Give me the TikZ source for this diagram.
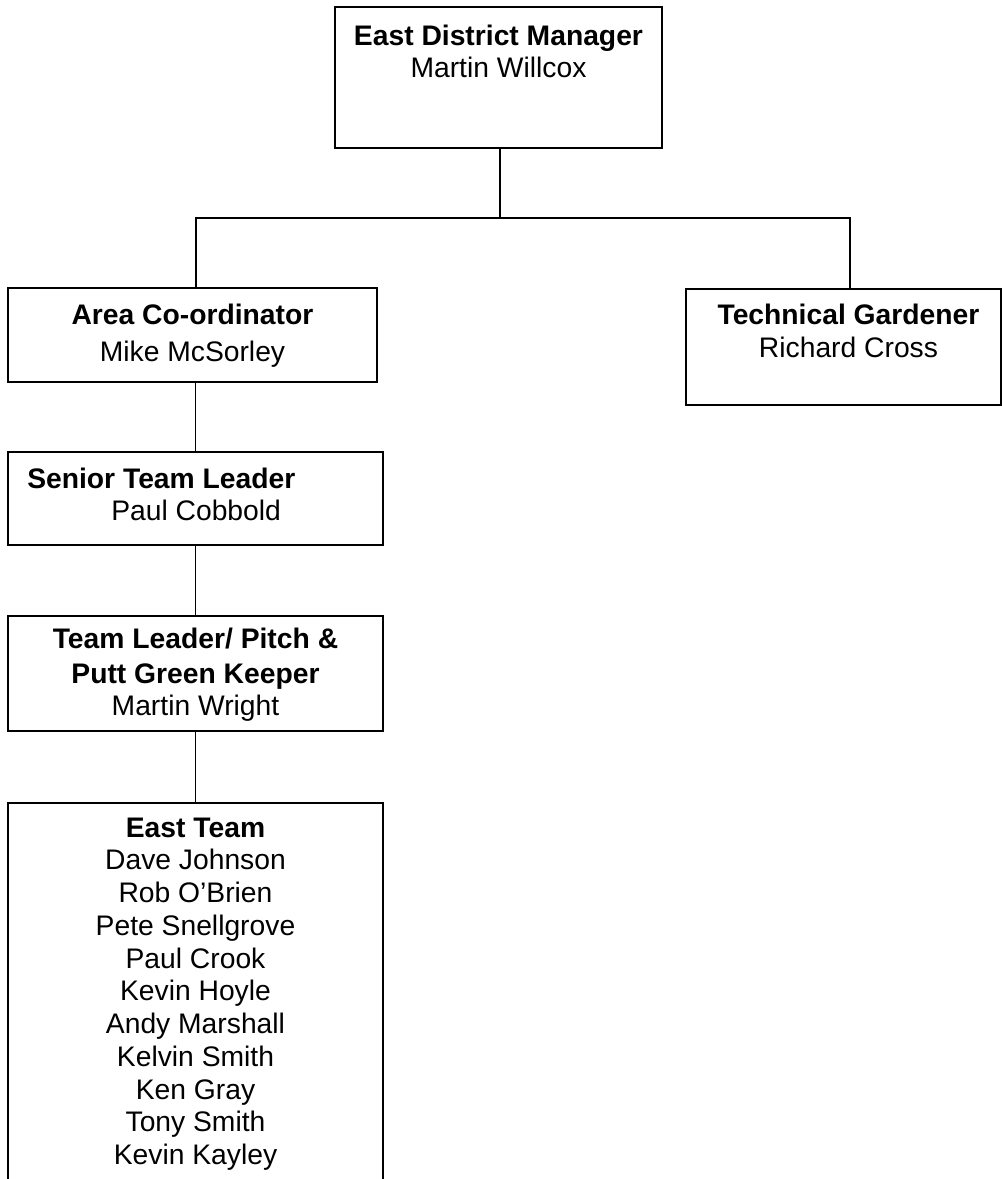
\documentclass[tikz,border=0pt]{standalone}
\usepackage{fontspec}
\setmainfont{Liberation Sans}
\begin{document}
\begin{tikzpicture}[x=0.75pt,y=-0.75pt,
  box/.style={draw=black,line width=1pt,inner sep=0pt,fill=none},
  lbl/.style={anchor=base,inner sep=0pt,font=\fontsize{21.2}{25}\selectfont},
  hd/.style={lbl,font=\fontsize{21.2}{25}\selectfont\bfseries},
  conn/.style={draw=black,line width=1pt}]
\useasboundingbox (0,0) rectangle (1002,1179);
\clip (0,0) rectangle (1002,1179);
% boxes
\node[box,minimum width=245.25pt,minimum height=105.75pt] (mgr) at (498.5,77.5) {};
\node[box,minimum width=276.75pt,minimum height=70.5pt] (area) at (192.5,335) {};
\node[box,minimum width=236.25pt,minimum height=87pt] (tech) at (843.5,347) {};
\node[box,minimum width=281.25pt,minimum height=69.75pt] (senior) at (195.5,498.5) {};
\node[box,minimum width=281.25pt,minimum height=86.25pt] (tl) at (195.5,673.5) {};
\node[box,minimum width=281.25pt,minimum height=297.75pt] (east) at (195.5,1001.5) {};
% texts
\node[hd] (t1) at (498.5,45) {East District Manager};
\node[lbl] (t2) at (498.5,77) {Martin Willcox};
\node[hd] (t3) at (192.5,324) {Area Co-ordinator};
\node[lbl] (t4) at (192.5,361) {Mike McSorley};
\node[hd] (t5) at (848.5,324) {Technical Gardener};
\node[lbl] (t6) at (848.5,357) {Richard Cross};
\node[hd,anchor=base west] (t7) at (27,488) {Senior Team Leader};
\node[lbl,anchor=base west] (t8) at (111,520) {Paul Cobbold};
\node[hd] (t9) at (195.5,648) {Team Leader/ Pitch \&};
\node[hd] (t10) at (195.5,683) {Putt Green Keeper};
\node[lbl] (t11) at (195.5,715) {Martin Wright};
\node[hd] (e0) at (195.5,837) {East Team};
\foreach \nm [count=\i] in {Dave Johnson,Rob O’Brien,Pete Snellgrove,Paul Crook,Kevin Hoyle,Andy Marshall,Kelvin Smith,Ken Gray,Tony Smith,Kevin Kayley}
  \node[lbl] (e\i) at (195.5,837+32.75*\i) {\nm};
% connectors
\coordinate (busL) at (196,218);
\coordinate (busR) at (850,218);
\draw[conn] (mgr.south -| 500,0) -- (busL -| 500,0);
\draw[conn] (area.north -| busL) -- (busL) -- (busR) -- (tech.north -| busR);
\draw[conn] (area.south -| senior.north) -- (senior.north);
\draw[conn] (senior.south) -- (tl.north);
\draw[conn] (tl.south) -- (east.north);
\end{tikzpicture}
\end{document}
